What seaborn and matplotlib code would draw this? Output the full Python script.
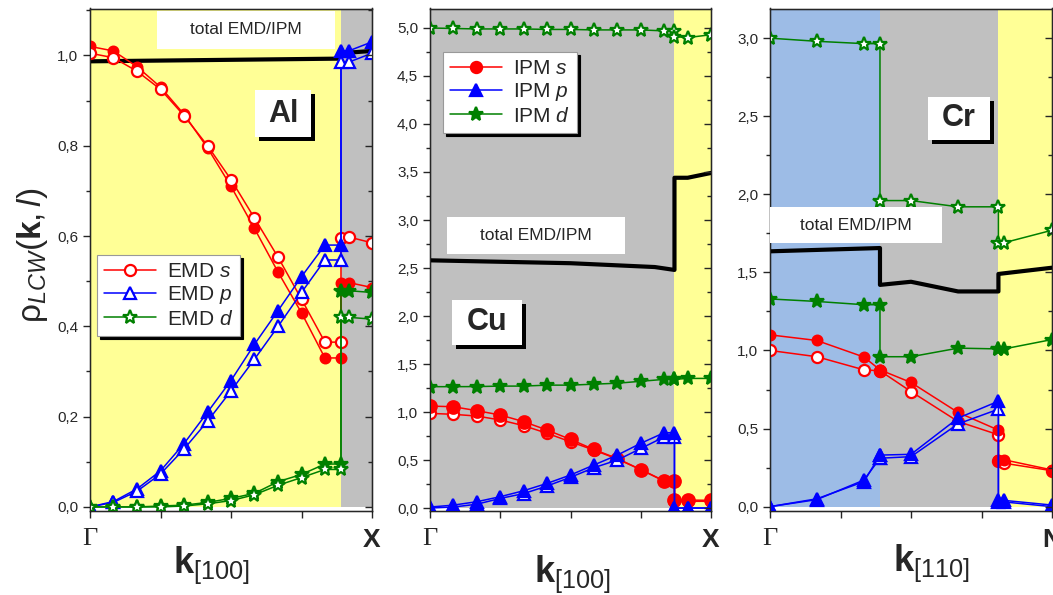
import matplotlib
matplotlib.use("Agg")
import matplotlib.pyplot as plt
import seaborn as sns
from matplotlib.lines import Line2D
from matplotlib.patches import Rectangle
from matplotlib.ticker import MultipleLocator, FuncFormatter

# ---- data ------------------------------------------------------------------
# Al, path Gamma -> X
al_k = [0, 0.083, 0.167, 0.25, 0.333, 0.417, 0.5, 0.583, 0.667, 0.75, 0.833, 0.89, 0.89, 0.917, 1.0]
al_emd_s = [1.005, 0.995, 0.965, 0.925, 0.867, 0.80, 0.725, 0.64, 0.553, 0.46, 0.365, 0.365, 0.595, 0.598, 0.585]
al_ipm_s = [1.02, 1.01, 0.975, 0.93, 0.87, 0.795, 0.71, 0.617, 0.52, 0.43, 0.33, 0.33, 0.497, 0.497, 0.486]
al_emd_p = [0.0, 0.01, 0.035, 0.073, 0.128, 0.19, 0.257, 0.327, 0.40, 0.475, 0.547, 0.547, 0.985, 0.985, 1.005]
al_ipm_p = [0.0, 0.012, 0.04, 0.08, 0.14, 0.21, 0.28, 0.36, 0.435, 0.51, 0.58, 0.58, 1.01, 1.01, 1.03]
al_emd_d = [0.0, 0.0, 0.0, 0.0, 0.002, 0.007, 0.014, 0.027, 0.048, 0.065, 0.083, 0.083, 0.42, 0.42, 0.416]
al_ipm_d = [0.0, 0.0, 0.0, 0.002, 0.004, 0.01, 0.019, 0.03, 0.056, 0.072, 0.095, 0.095, 0.479, 0.479, 0.475]
al_total_k = [0, 0.89, 0.89, 1.0]
al_total = [0.987, 0.993, 1.005, 1.01]
al_bounds = [0, 0.89, 1.0]

# Cu, path Gamma -> X
cu_k = [0, 0.083, 0.167, 0.25, 0.333, 0.417, 0.5, 0.583, 0.667, 0.75, 0.833, 0.87, 0.87, 0.917, 1.0]
cu_emd_s = [0.986, 0.976, 0.958, 0.917, 0.858, 0.778, 0.69, 0.604, 0.51, 0.40, 0.28, 0.28, 0.07, 0.07, 0.07]
cu_ipm_s = [1.062, 1.055, 1.014, 0.969, 0.90, 0.812, 0.715, 0.61, 0.515, 0.40, 0.284, 0.284, 0.083, 0.083, 0.08]
cu_emd_p = [0.0, 0.01, 0.04, 0.10, 0.15, 0.23, 0.32, 0.42, 0.50, 0.62, 0.74, 0.74, 0.0, 0.0, 0.0]
cu_ipm_p = [0.01, 0.03, 0.066, 0.118, 0.18, 0.257, 0.344, 0.448, 0.552, 0.674, 0.784, 0.784, 0.0, 0.0, 0.0]
cu_emd_d = [5.0, 4.995, 4.99, 4.99, 4.99, 4.985, 4.985, 4.98, 4.98, 4.98, 4.97, 4.97, 4.91, 4.90, 4.93]
cu_ipm_d = [1.264, 1.264, 1.265, 1.27, 1.27, 1.28, 1.28, 1.29, 1.30, 1.32, 1.34, 1.34, 1.34, 1.35, 1.35]
cu_total_k = [0, 0.5, 0.8, 0.87, 0.87, 0.917, 1.0]
cu_total = [2.58, 2.55, 2.51, 2.48, 3.44, 3.44, 3.49]
cu_bounds = [0, 0.87, 1.0]

# Cr, path Gamma -> N
cr_k = [0, 0.166, 0.333, 0.39, 0.39, 0.5, 0.667, 0.81, 0.81, 0.83, 1.0]
cr_emd_s = [1.0, 0.96, 0.876, 0.87, 0.87, 0.737, 0.545, 0.46, 0.29, 0.278, 0.23]
cr_ipm_s = [1.10, 1.064, 0.958, 0.876, 0.876, 0.795, 0.603, 0.49, 0.30, 0.30, 0.235]
cr_emd_p = [0.0, 0.045, 0.17, 0.31, 0.31, 0.32, 0.53, 0.624, 0.03, 0.03, 0.0]
cr_ipm_p = [0.0, 0.05, 0.16, 0.33, 0.33, 0.335, 0.567, 0.675, 0.04, 0.04, 0.01]
cr_emd_d = [3.0, 2.98, 2.965, 2.965, 1.96, 1.96, 1.92, 1.92, 1.69, 1.69, 1.77]
cr_ipm_d = [1.33, 1.314, 1.293, 1.293, 0.96, 0.96, 1.015, 1.01, 1.01, 1.01, 1.07]
cr_total_k = [0, 0.39, 0.39, 0.5, 0.667, 0.81, 0.81, 1.0]
cr_total = [1.635, 1.656, 1.42, 1.44, 1.378, 1.378, 1.49, 1.53]
cr_bounds = [0, 0.39, 0.81, 1.0]

YELLOW = "#FFFF96"
GRAY = "#C0C0C0"
BLUE = "#9DBCE6"

W, H = 1053, 595

sns.set_style("ticks")
plt.rcParams["font.family"] = ["Liberation Sans", "DejaVu Sans"]
plt.rcParams["mathtext.fontset"] = "custom"
plt.rcParams["mathtext.rm"] = "Liberation Sans"
plt.rcParams["mathtext.it"] = "Liberation Sans:italic"
plt.rcParams["mathtext.bf"] = "Liberation Sans:bold"

fig = plt.figure(figsize=(W / 100, H / 100), dpi=100)


def px(x, y):
    return x / W, 1 - y / H


def comma(v, pos):
    return f"{v:.1f}".replace(".", ",")


def series(ax, k, v, color, marker, filled, ms):
    sns.lineplot(x=k, y=v, ax=ax, estimator=None, sort=False, color=color, lw=1.1,
                 marker=marker, markersize=ms, markeredgecolor=color, markeredgewidth=1.6,
                 markerfacecolor=color if filled else "white", zorder=4)


def panel(x0, x1, k, data, total_k, total, bounds, colors, ylim, major, minor, end_label):
    rect = [x0 / W, 1 - 511 / H, (x1 - x0) / W, 502.5 / H]
    ax = fig.add_axes(rect)
    ax.set_xlim(0, 1)
    ax.set_ylim(*ylim)
    y0 = (0 - ylim[0]) / (ylim[1] - ylim[0])
    for a, b, c in zip(bounds[:-1], bounds[1:], colors):
        ax.axvspan(a, b, ymin=y0, ymax=1, color=c, lw=0, zorder=0)
    sns.lineplot(x=total_k, y=total, ax=ax, estimator=None, sort=False, color="black", lw=3, zorder=3)
    for vals, color, marker, filled, ms in data:
        series(ax, k, vals, color, marker, filled, ms)
    ax.yaxis.set_major_locator(MultipleLocator(major))
    ax.yaxis.set_minor_locator(MultipleLocator(minor))
    ax.yaxis.set_major_formatter(FuncFormatter(comma))
    ax.tick_params(axis="y", which="both", direction="out", labelsize=11, width=1)
    ax.tick_params(axis="y", which="major", length=5)
    ax.tick_params(axis="y", which="minor", length=3)
    ax.set_xticks([0, 0.25, 0.5, 0.75, 1.0], ["Γ", "", "", "", end_label])
    ax.tick_params(axis="x", direction="out", length=5, width=1, pad=7)
    labels = ax.get_xticklabels()
    labels[0].set_fontfamily(["Liberation Serif", "DejaVu Serif"])
    labels[0].set_fontsize(19)
    labels[-1].set_fontfamily(["Liberation Sans Narrow", "Liberation Sans"])
    labels[-1].set_fontweight("bold")
    labels[-1].set_fontsize(19)
    for s in ax.spines.values():
        s.set_color("black")
        s.set_linewidth(1)
    ax.set_xlabel("")
    ax.set_ylabel("")

    # mirrored ticks on the right spine point inward
    tw = ax.twinx()
    tw.set_ylim(*ylim)
    tw.yaxis.set_major_locator(MultipleLocator(major))
    tw.yaxis.set_minor_locator(MultipleLocator(minor))
    tw.tick_params(axis="y", which="both", direction="in", labelright=False, width=1)
    tw.tick_params(axis="y", which="major", length=5)
    tw.tick_params(axis="y", which="minor", length=3)
    tw.set_ylabel("")
    return ax


def label_box(x0, y0, x1, y1, text, size, bold=False, shadow=0):
    w, h = (x1 - x0) / W, (y1 - y0) / H
    if shadow:
        fig.add_artist(Rectangle(px(x0 + shadow, y1 + shadow), w, h, transform=fig.transFigure,
                                 fc="black", ec="none", zorder=5))
    fig.add_artist(Rectangle(px(x0, y1), w, h, transform=fig.transFigure,
                             fc="white", ec="none", zorder=6))
    fig.text(*px((x0 + x1) / 2, (y0 + y1) / 2), text, ha="center", va="center",
             fontsize=size, fontweight="bold" if bold else "normal", zorder=7)


def add_legend(x, y, entries):
    handles = [Line2D([], [], color=c, lw=1.1, marker=m, markersize=ms, markeredgecolor=c,
                      markeredgewidth=1.6, markerfacecolor=c if f else "white")
               for _, c, m, f, ms in entries]
    labels = [e[0] for e in entries]
    leg = fig.legend(handles, labels, loc="upper left", bbox_to_anchor=px(x, y),
                     bbox_transform=fig.transFigure, fontsize=15, frameon=True, fancybox=False,
                     shadow={"color": "black", "alpha": 1}, edgecolor="#999999",
                     handlelength=2.5, handletextpad=0.5, borderpad=0.35, labelspacing=0.15,
                     borderaxespad=0)
    leg.get_frame().set_linewidth(0.8)
    leg.set_zorder(8)


RED, BLU, GRN = "#FF0000", "#0000FF", "#008000"

ax1 = panel(90, 372, al_k,
            [(al_ipm_s, RED, "o", True, 7), (al_emd_s, RED, "o", False, 8),
             (al_ipm_p, BLU, "^", True, 8), (al_emd_p, BLU, "^", False, 9),
             (al_ipm_d, GRN, "*", True, 10), (al_emd_d, GRN, "*", False, 10)],
            al_total_k, al_total, al_bounds, [YELLOW, GRAY], (-0.009, 1.104), 0.2, 0.1, "X")
ax2 = panel(430, 711, cu_k,
            [(cu_emd_s, RED, "o", False, 8), (cu_ipm_s, RED, "o", True, 9),
             (cu_emd_p, BLU, "^", False, 9), (cu_ipm_p, BLU, "^", True, 8),
             (cu_emd_d, GRN, "*", False, 10), (cu_ipm_d, GRN, "*", True, 10)],
            cu_total_k, cu_total, cu_bounds, [GRAY, YELLOW], (-0.031, 5.203), 0.5, 0.25, "X")
ax3 = panel(770, 1052, cr_k,
            [(cr_emd_s, RED, "o", False, 8), (cr_ipm_s, RED, "o", True, 7),
             (cr_emd_p, BLU, "^", False, 9), (cr_ipm_p, BLU, "^", True, 9),
             (cr_emd_d, GRN, "*", False, 10), (cr_ipm_d, GRN, "*", True, 10)],
            cr_total_k, cr_total, cr_bounds, [BLUE, GRAY, YELLOW], (-0.028, 3.19), 0.5, 0.25, "N")

add_legend(97, 255, [("EMD $s$", RED, "o", False, 8), ("EMD $p$", BLU, "^", False, 9),
                     ("EMD $d$", GRN, "*", False, 10)])
add_legend(443, 52, [("IPM $s$", RED, "o", True, 8), ("IPM $p$", BLU, "^", True, 8),
                     ("IPM $d$", GRN, "*", True, 10)])

label_box(157, 11, 335, 49, "total EMD/IPM", 12.5)
label_box(447, 217, 625, 254, "total EMD/IPM", 12.5)
label_box(770, 207, 942, 243, "total EMD/IPM", 12.5)
label_box(255, 90, 311, 137, "Al", 22, bold=True, shadow=4)
label_box(452, 300, 522, 345, "Cu", 22, bold=True, shadow=4)
label_box(928, 97, 990, 140, "Cr", 22, bold=True, shadow=4)

fig.text(*px(32, 255), r"$\mathrm{\rho}_{LCW}(\mathbf{k},l)$", rotation=90,
         ha="center", va="center", fontsize=24)
fig.text(*px(211, 565), r"$\mathbf{k}_{[100]}$", ha="center", va="center", fontsize=26)
fig.text(*px(572, 574), r"$\mathbf{k}_{[100]}$", ha="center", va="center", fontsize=26)
fig.text(*px(931, 563), r"$\mathbf{k}_{[110]}$", ha="center", va="center", fontsize=26)

fig.savefig("out.png", dpi=100)
